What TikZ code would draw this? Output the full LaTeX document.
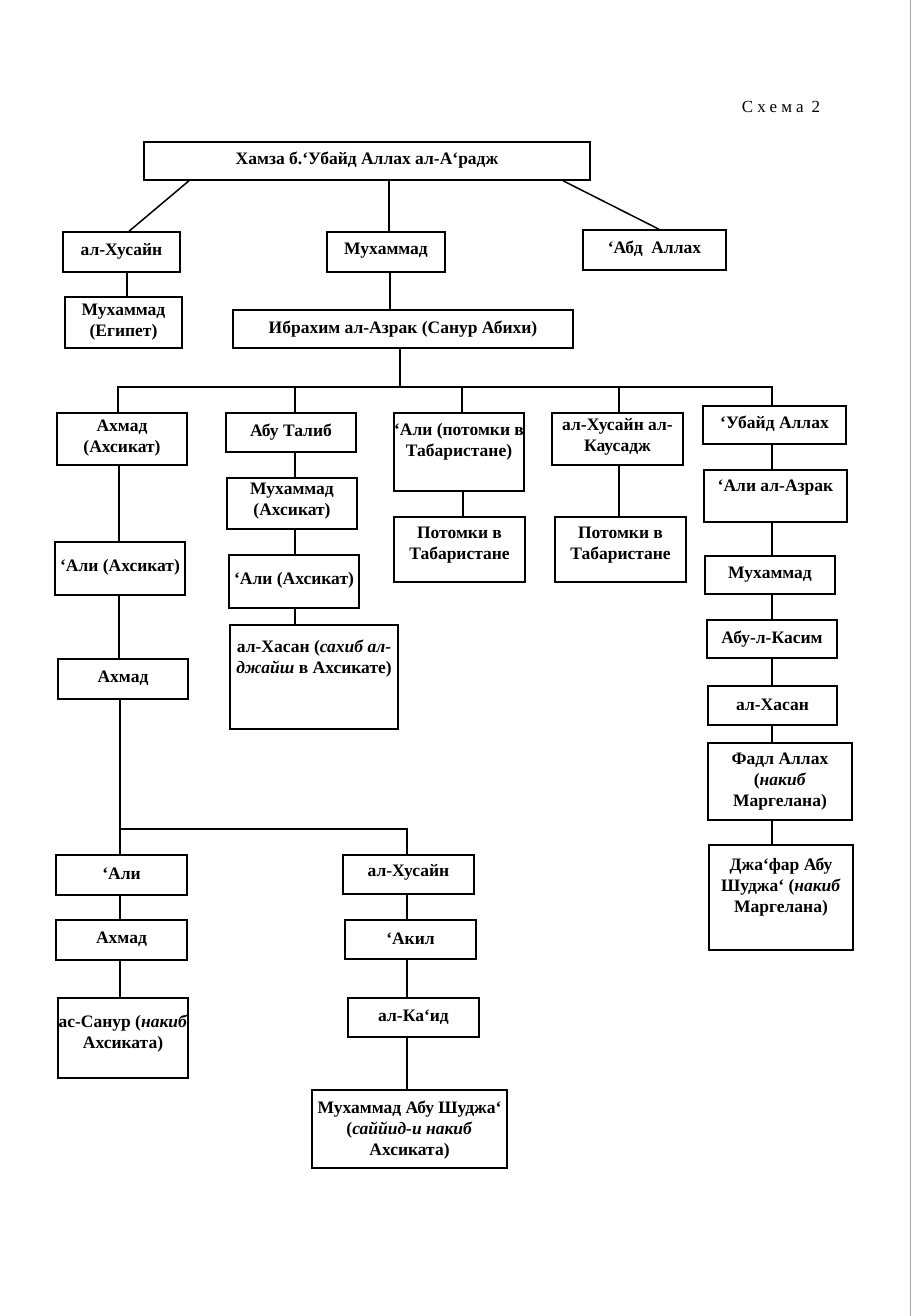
\documentclass[tikz,border=0pt]{standalone}
\usepackage{fontspec}
\setmainfont{Liberation Serif}
\usetikzlibrary{fit}
\tikzset{
  gb/.style={draw, line width=1.5pt, inner sep=0pt},
  lbl/.style={font=\bfseries\fontsize{17.5}{21}\selectfont, align=center, inner sep=0pt},
  ln/.style={line width=1.5pt},
  ttl/.style={font=\fontsize{17}{20}\selectfont, inner sep=0pt}
}
% name, x1, y1, x2, y2, text centre y, text
\newcommand\gbox[7]{%
  \node[gb, fit={(#2,#3) (#4,#5)}] (#1) {};
  \node[lbl] (#1-t) at (#1.center |- 0,#6) {#7};}
% vertical connector from a to b at x
\newcommand\vcon[3]{\draw[ln] (#1.south -| #3,0) -- (#2.north -| #3,0);}
\begin{document}
\begin{tikzpicture}[x=1pt,y=-1pt]
\useasboundingbox (0,0) rectangle (912,1316);
\fill[white] (0,0) rectangle (912,1316);
\draw[gray!70, line width=1.5pt] (910.5,0) -- (910.5,1316);

\node[ttl] (title) at (781,107) {С\kern4ptх\kern4ptе\kern4ptм\kern4ptа\kern8pt2};

\gbox{top}{144}{142}{590}{180}{160}{Хамза б.‘Убайд Аллах ал-А‘радж}
\gbox{husA}{63}{232}{180}{272}{251}{ал-Хусайн}
\gbox{muhA}{327}{232}{445}{272}{251}{Мухаммад}
\gbox{abd}{583}{230}{726}{270}{249}{‘Абд\ \ Аллах}
\gbox{muhEg}{65}{297}{182}{348}{322}{Мухаммад\\(Египет)}
\gbox{ibr}{233}{310}{573}{348}{329}{Ибрахим ал-Азрак (Санур Абихи)}

\gbox{ahmA}{57}{413}{187}{465}{438}{Ахмад\\(Ахсикат)}
\gbox{abut}{226}{413}{356}{452}{432}{Абу Талиб}
\gbox{aliTab}{394}{413}{524}{491}{442}{‘Али (потомки в\\Табаристане)}
\gbox{husK}{552}{413}{683}{465}{437}{ал-Хусайн ал-\\Каусадж}
\gbox{ubayd}{703}{406}{846}{444}{424}{‘Убайд Аллах}

\gbox{muhAx}{227}{478}{357}{529}{501}{Мухаммад\\(Ахсикат)}
\gbox{aliAz}{704}{470}{847}{522}{488}{‘Али ал-Азрак}
\gbox{potA}{394}{517}{525}{582}{545}{Потомки в\\Табаристане}
\gbox{potB}{555}{517}{686}{582}{545}{Потомки в\\Табаристане}
\gbox{aliAxA}{55}{542}{185}{595}{567}{‘Али (Ахсикат)}
\gbox{aliAxB}{229}{555}{359}{608}{580}{‘Али (Ахсикат)}
\gbox{muhD}{705}{556}{835}{594}{575}{Мухаммад}
\gbox{abul}{707}{620}{837}{658}{639}{Абу-л-Касим}
\gbox{hasA}{230}{625}{398}{729}{659}{ал-Хасан (\textit{сахиб ал-}\\\textit{джайш} в Ахсикате)}
\gbox{ahmB}{58}{659}{188}{699}{678}{Ахмад}
\gbox{hasB}{708}{686}{837}{725}{705}{ал-Хасан}
\gbox{fadl}{708}{743}{852}{820}{782}{Фадл Аллах\\(\textit{накиб}\\Маргелана)}
\gbox{jafar}{709}{845}{853}{950}{887}{Джа‘фар Абу\\Шуджа‘ (\textit{накиб}\\Маргелана)}

\gbox{aliC}{56}{855}{187}{895}{874}{‘Али}
\gbox{husC}{343}{855}{474}{894}{872}{ал-Хусайн}
\gbox{ahmC}{56}{920}{187}{960}{939}{Ахмад}
\gbox{akil}{345}{920}{476}{959}{939}{‘Акил}
\gbox{sanur}{58}{998}{188}{1078}{1034}{ас-Санур (\textit{накиб}\\Ахсиката)}
\gbox{kaid}{348}{998}{479}{1037}{1017}{ал-Ка‘ид}
\gbox{muhAbu}{312}{1090}{507}{1168}{1130}{Мухаммад Абу Шуджа‘\\(\textit{саййид-и накиб}\\Ахсиката)}

% top level connectors
\draw[ln] (top.south -| 189,0) -- (husA.north -| 129,0);
\draw[ln] (top.south -| 389,0) -- (muhA.north -| 389,0);
\draw[ln] (top.south -| 563,0) -- (abd.north -| 659,0);
\vcon{husA}{muhEg}{127}
\vcon{muhA}{ibr}{390}

% bus under Ibrahim
\coordinate (busL) at (118,387);
\coordinate (busR) at (772,387);
\draw[ln] (ibr.south -| 400,0) -- (busL -| 400,0);
\draw[ln] (ahmA.north -| busL) -- (busL) -- (busR) -- (ubayd.north -| busR);
\draw[ln] (abut.north -| 295,0) -- (busL -| 295,0);
\draw[ln] (aliTab.north -| 462,0) -- (busL -| 462,0);
\draw[ln] (husK.north -| 619,0) -- (busL -| 619,0);

% left column
\vcon{ahmA}{aliAxA}{119}
\vcon{aliAxA}{ahmB}{119}
\coordinate (bus2L) at (120,829);
\coordinate (bus2R) at (407,829);
\draw[ln] (ahmB.south -| 120,0) -- (aliC.north -| bus2L);
\draw[ln] (bus2L) -- (bus2R) -- (husC.north -| bus2R);
\vcon{aliC}{ahmC}{120}
\vcon{ahmC}{sanur}{120}
\vcon{husC}{akil}{407}
\vcon{akil}{kaid}{407}
\vcon{kaid}{muhAbu}{407}

% Abu Talib column
\vcon{abut}{muhAx}{295}
\vcon{muhAx}{aliAxB}{295}
\vcon{aliAxB}{hasA}{295}

% Tabaristan columns
\vcon{aliTab}{potA}{463}
\vcon{husK}{potB}{619}

% right column
\vcon{ubayd}{aliAz}{772}
\vcon{aliAz}{muhD}{772}
\vcon{muhD}{abul}{772}
\vcon{abul}{hasB}{772}
\vcon{hasB}{fadl}{772}
\vcon{fadl}{jafar}{772}
\end{tikzpicture}
\end{document}
